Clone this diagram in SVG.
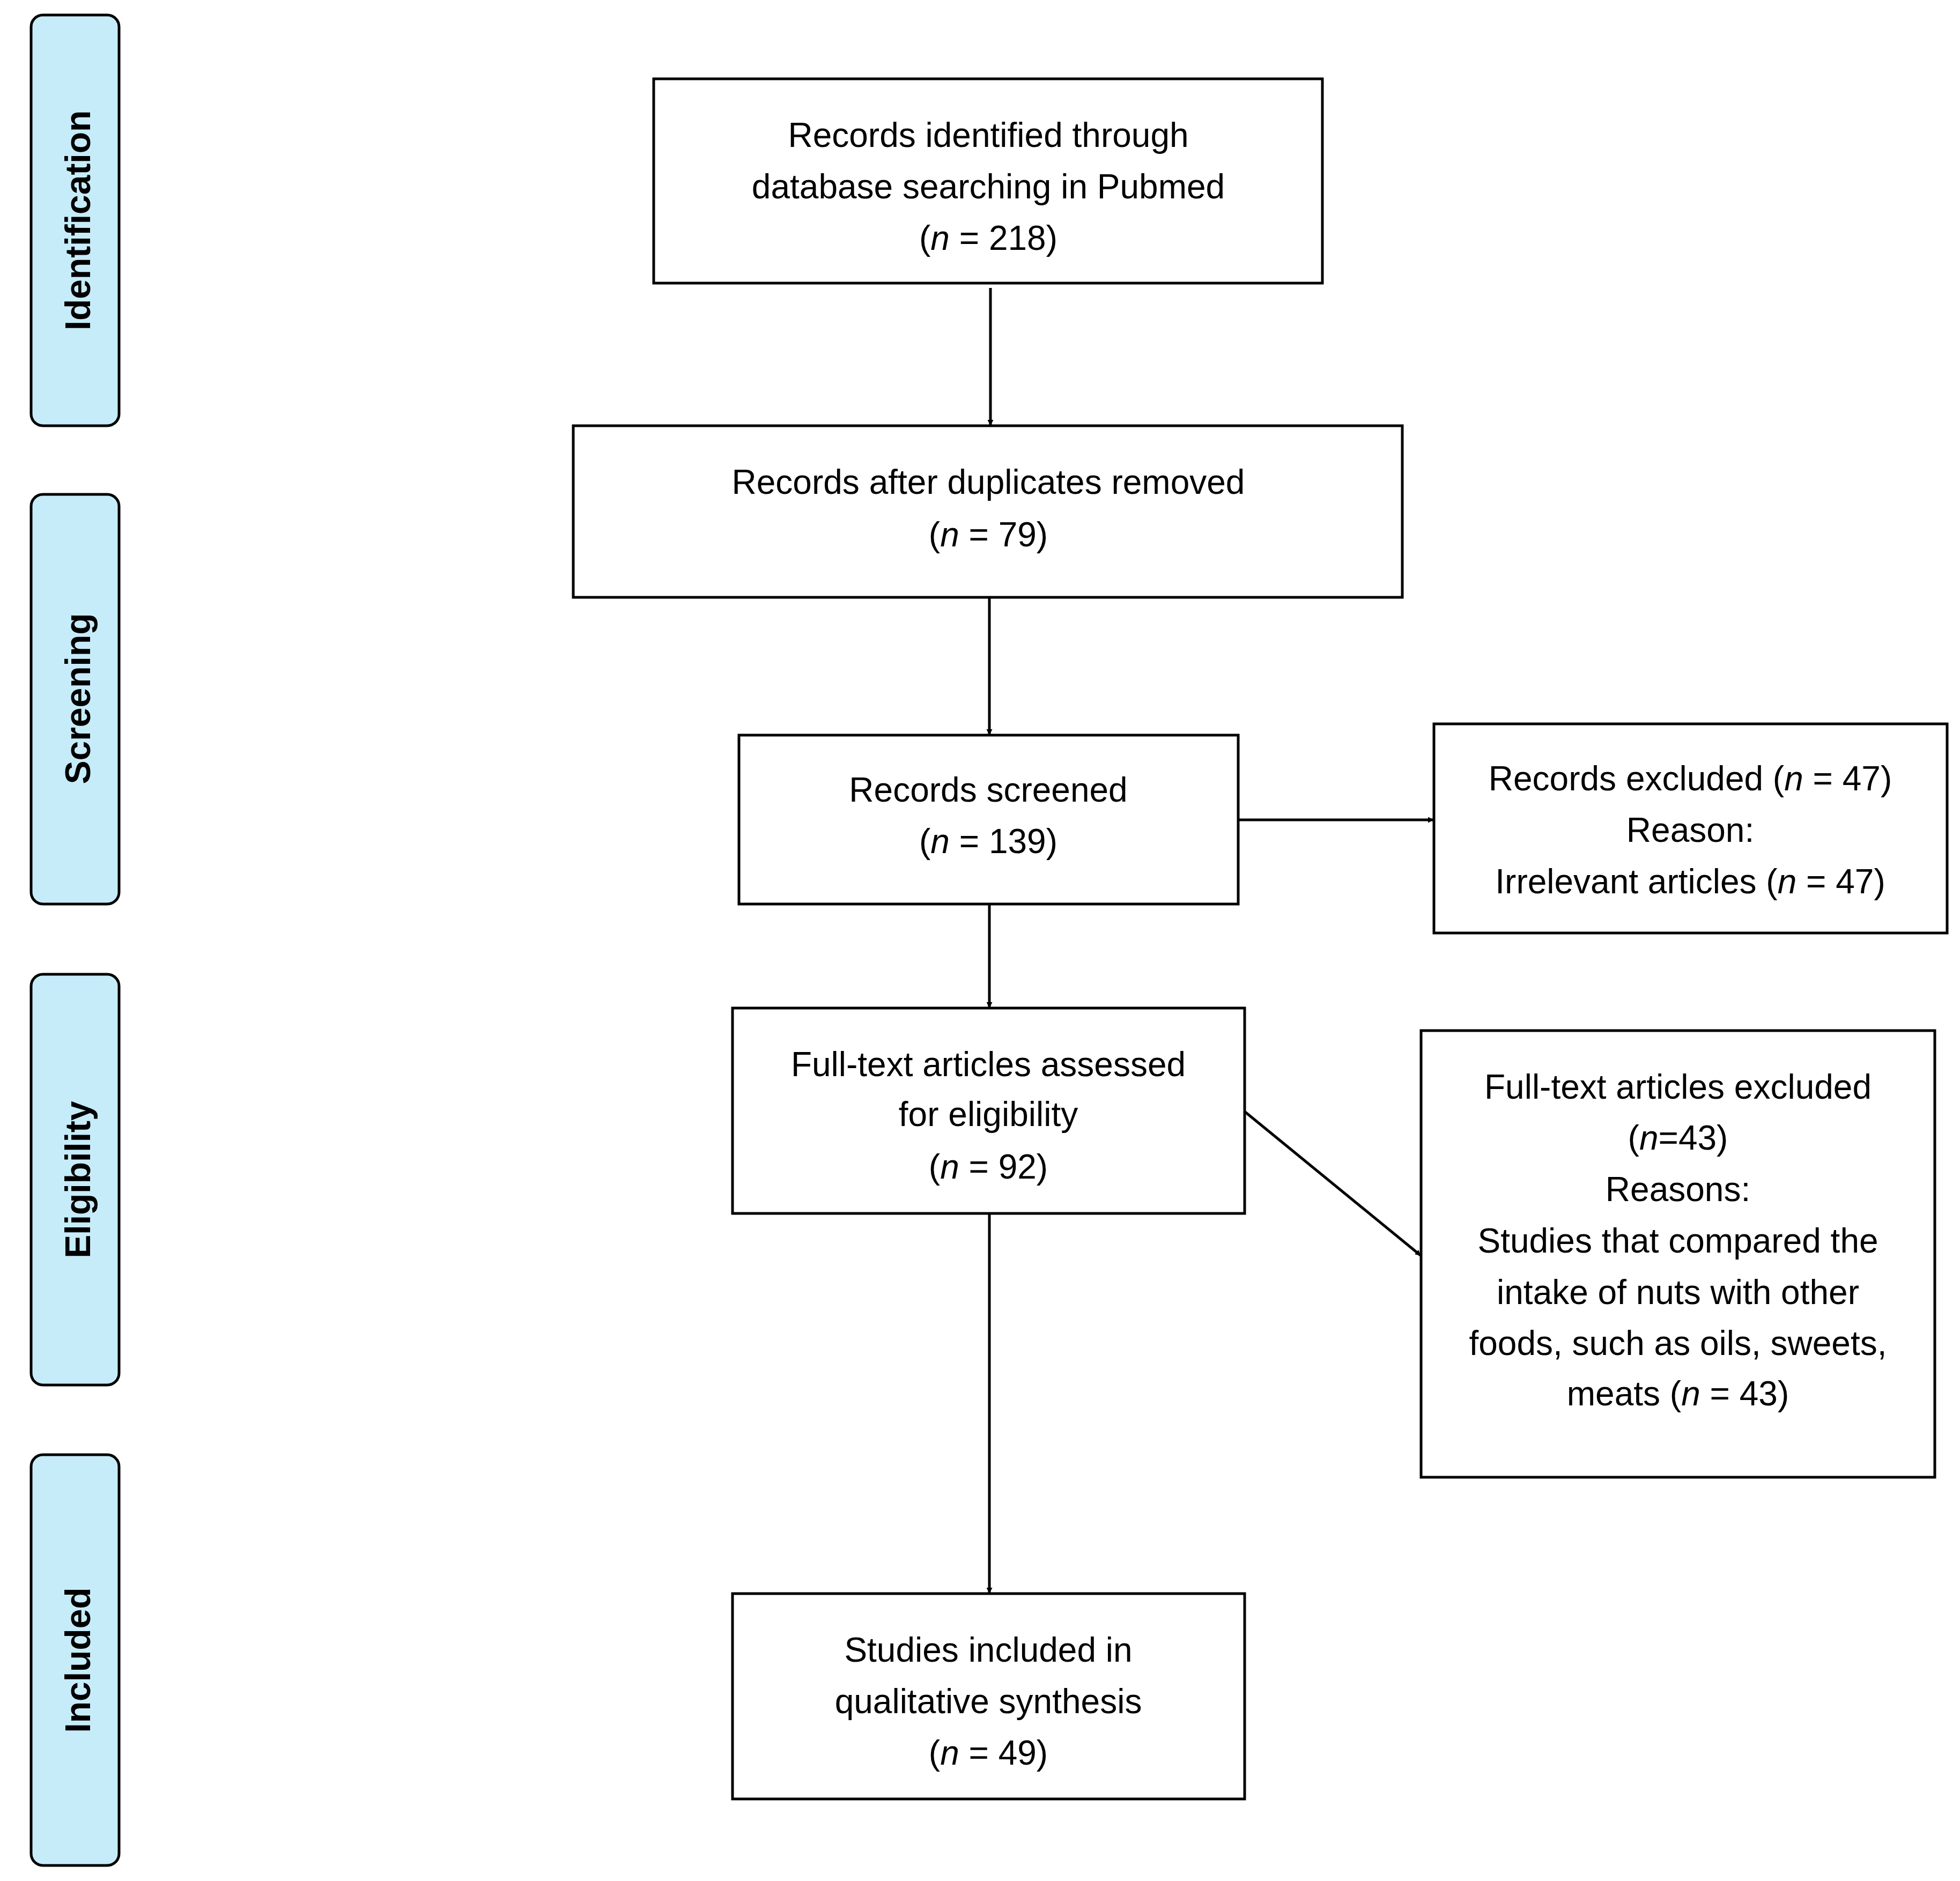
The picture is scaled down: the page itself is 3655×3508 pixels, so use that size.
<svg xmlns="http://www.w3.org/2000/svg" width="3655" height="3508" viewBox="0 0 3655 3508">
<style>
.box{fill:#fff;stroke:#000;stroke-width:5}
.side{fill:#c6ecfa;stroke:#000;stroke-width:5}
.t{font-family:"Liberation Sans",Arial,sans-serif;font-size:64px;text-anchor:middle;fill:#000}
.s{font-family:"Liberation Sans",Arial,sans-serif;font-size:66px;font-weight:bold;text-anchor:middle;fill:#000}
.c{stroke:#000;stroke-width:5;fill:none;marker-end:url(#ah)}
</style>
<defs>
<marker id="ah" viewBox="0 0 10 10" refX="10" refY="5" markerWidth="11" markerHeight="11" markerUnits="userSpaceOnUse" orient="auto">
<path d="M0,0 L10,5 L0,10 z" fill="#000"/>
</marker>
</defs>
<rect width="3655" height="3508" fill="#fff"/>
<g id="side-identification"><rect class="side" x="58" y="28" width="164" height="766" rx="22"/><text class="s" transform="translate(168,411) rotate(-90)">Identification</text></g>
<g id="side-screening"><rect class="side" x="58" y="922" width="164" height="764" rx="22"/><text class="s" transform="translate(168,1303) rotate(-90)">Screening</text></g>
<g id="side-eligibility"><rect class="side" x="58" y="1817" width="164" height="766" rx="22"/><text class="s" transform="translate(168,2200) rotate(-90)">Eligibility</text></g>
<g id="side-included"><rect class="side" x="58" y="2713" width="164" height="766" rx="22"/><text class="s" transform="translate(168,3096) rotate(-90)">Included</text></g>
<g id="connectors">
<line class="c" x1="1847" y1="537" x2="1847" y2="794"/>
<line class="c" x1="1845" y1="1114" x2="1845" y2="1371"/>
<line class="c" x1="2309" y1="1529" x2="2674" y2="1529"/>
<line class="c" x1="1845" y1="1686" x2="1845" y2="1880"/>
<line class="c" x1="2321" y1="2073" x2="2650" y2="2342"/>
<line class="c" x1="1845" y1="2263" x2="1845" y2="2972"/>
</g>
<g id="n1"><rect class="box" x="1219" y="147" width="1247" height="381"/>
<text class="t" x="1843" y="274">Records identified through</text>
<text class="t" x="1843" y="370">database searching in Pubmed</text>
<text class="t" x="1843" y="466">(<tspan font-style="italic">n</tspan> = 218)</text></g>
<g id="n2"><rect class="box" x="1069" y="794" width="1546" height="320"/>
<text class="t" x="1843" y="921">Records after duplicates removed</text>
<text class="t" x="1843" y="1019">(<tspan font-style="italic">n</tspan> = 79)</text></g>
<g id="n3"><rect class="box" x="1378" y="1371" width="931" height="315"/>
<text class="t" x="1843" y="1495">Records screened</text>
<text class="t" x="1843" y="1591">(<tspan font-style="italic">n</tspan> = 139)</text></g>
<g id="n4"><rect class="box" x="2674" y="1350" width="957" height="390"/>
<text class="t" x="3152" y="1474">Records excluded (<tspan font-style="italic">n</tspan> = 47)</text>
<text class="t" x="3152" y="1570">Reason:</text>
<text class="t" x="3152" y="1666">Irrelevant articles (<tspan font-style="italic">n</tspan> = 47)</text></g>
<g id="n5"><rect class="box" x="1366" y="1880" width="955" height="383"/>
<text class="t" x="1843" y="2007">Full-text articles assessed</text>
<text class="t" x="1843" y="2100">for eligibility</text>
<text class="t" x="1843" y="2198">(<tspan font-style="italic">n</tspan> = 92)</text></g>
<g id="n6"><rect class="box" x="2650" y="1922" width="958" height="833"/>
<text class="t" x="3129" y="2049">Full-text articles excluded</text>
<text class="t" x="3129" y="2144">(<tspan font-style="italic">n</tspan>=43)</text>
<text class="t" x="3129" y="2240">Reasons:</text>
<text class="t" x="3129" y="2336">Studies that compared the</text>
<text class="t" x="3129" y="2432">intake of nuts with other</text>
<text class="t" x="3129" y="2527">foods, such as oils, sweets,</text>
<text class="t" x="3129" y="2621">meats (<tspan font-style="italic">n</tspan> = 43)</text></g>
<g id="n7"><rect class="box" x="1366" y="2972" width="955" height="383"/>
<text class="t" x="1843" y="3099">Studies included in</text>
<text class="t" x="1843" y="3195">qualitative synthesis</text>
<text class="t" x="1843" y="3291">(<tspan font-style="italic">n</tspan> = 49)</text></g>
</svg>
